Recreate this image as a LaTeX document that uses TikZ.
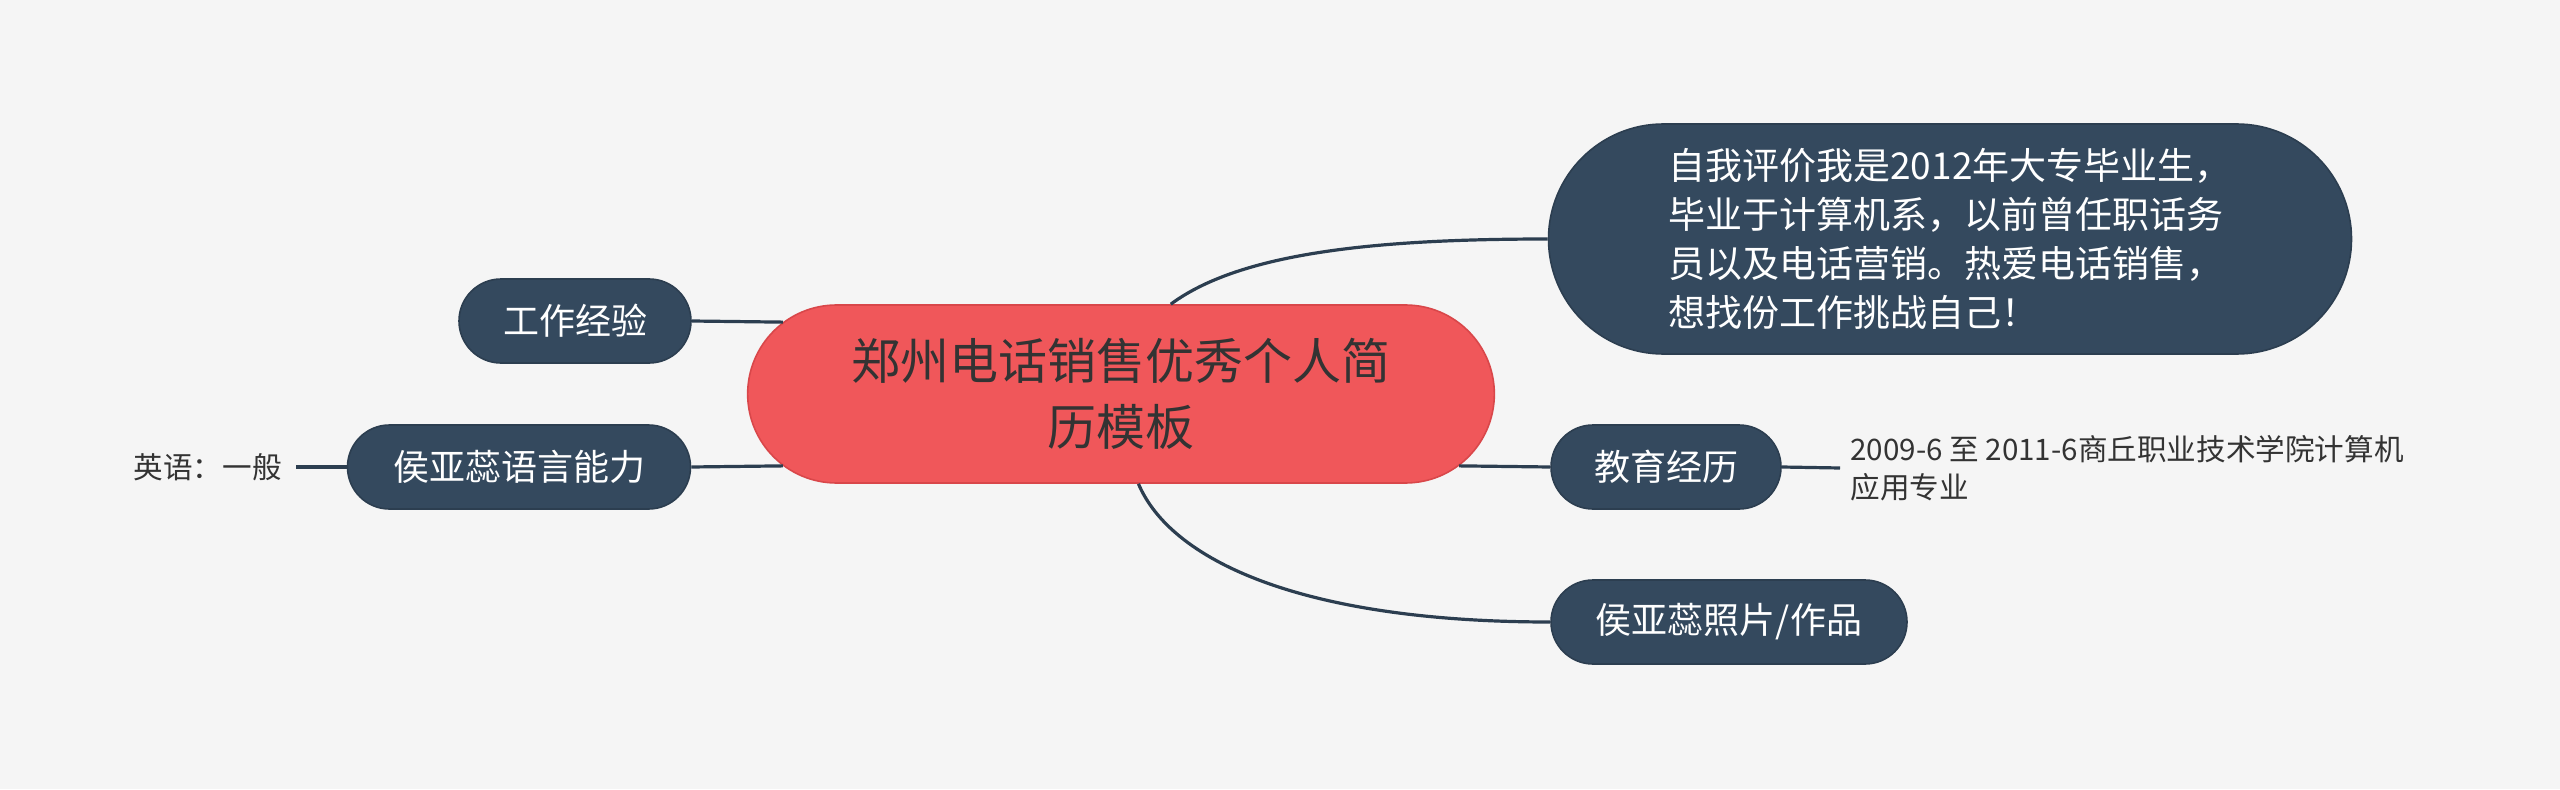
\documentclass[tikz,border=0pt]{standalone}
\usepackage{fontspec}
\setmainfont{Noto Sans CJK SC}
\usetikzlibrary{shapes.misc}
\definecolor{bgcol}{HTML}{F5F5F5}
\definecolor{rootred}{HTML}{F0575A}
\definecolor{rootedge}{HTML}{D9474A}
\definecolor{navy}{HTML}{34495E}
\definecolor{navyedge}{HTML}{2C3E50}
\definecolor{ink}{HTML}{333333}

\begin{document}
\begin{tikzpicture}[x=0.5pt,y=0.5pt,
  topic/.style={rounded rectangle, fill=navy, draw=navyedge, line width=0.8pt, text=white,
    font=\fontsize{18}{24.5}\selectfont, minimum height=42pt, inner xsep=0pt},
  note/.style={text=ink, font=\fontsize{14.8}{19}\selectfont, align=left},
  branch/.style={draw=navyedge, line width=1.6pt}]
  \fill[bgcol] (0,0) rectangle (2560,789);
  \useasboundingbox (0,0) rectangle (2560,789);
  % central topic
  \node[rounded rectangle, fill=rootred, draw=rootedge, line width=0.8pt, text=ink,
    font=\fontsize{24.5}{33}\selectfont, align=center, minimum width=380pt, minimum height=89pt]
    (root) at (1121,395) {郑州电话销售优秀个人简\\历模板};
  % right side
  \node[topic, minimum width=401.5pt, minimum height=115pt, align=left,
    font=\fontsize{18.5}{24.5}\selectfont] (eval) at (1950,550)
    {自我评价我是2012年大专毕业生，\\毕业于计算机系，以前曾任职话务\\员以及电话营销。热爱电话销售，\\想找份工作挑战自己！};
  \node[topic, minimum width=115pt] (edu) at (1666,322) {教育经历};
  \node[note, anchor=west, inner xsep=5pt] (edunote) at (1840,321)
    {2009-6 至 2011-6商丘职业技术学院计算机\\应用专业};
  \node[topic, minimum width=178pt] (photo) at (1729,167) {侯亚蕊照片/作品};
  % left side
  \node[topic, minimum width=116pt] (work) at (575,468) {工作经验};
  \node[topic, minimum width=171.5pt] (lang) at (519,322) {侯亚蕊语言能力};
  \node[note, anchor=east, inner xsep=7pt] (eng) at (296,322) {英语：一般};
  % branches
  \draw[branch] (root.61) .. controls +(70,52) and +(-170,0) .. (eval.west);
  \draw[branch] (root.-79) .. controls +(32,-76) and +(-250,0) .. (photo.west);
  \draw[branch] (root.-12) -- (edu.west);
  \draw[branch] (root.168) -- (work.east);
  \draw[branch] (root.192) -- (lang.east);
  \draw[branch] (lang.west) -- (eng.east);
  \draw[branch] (edu.east) -- (edunote.west);
\end{tikzpicture}
\end{document}
